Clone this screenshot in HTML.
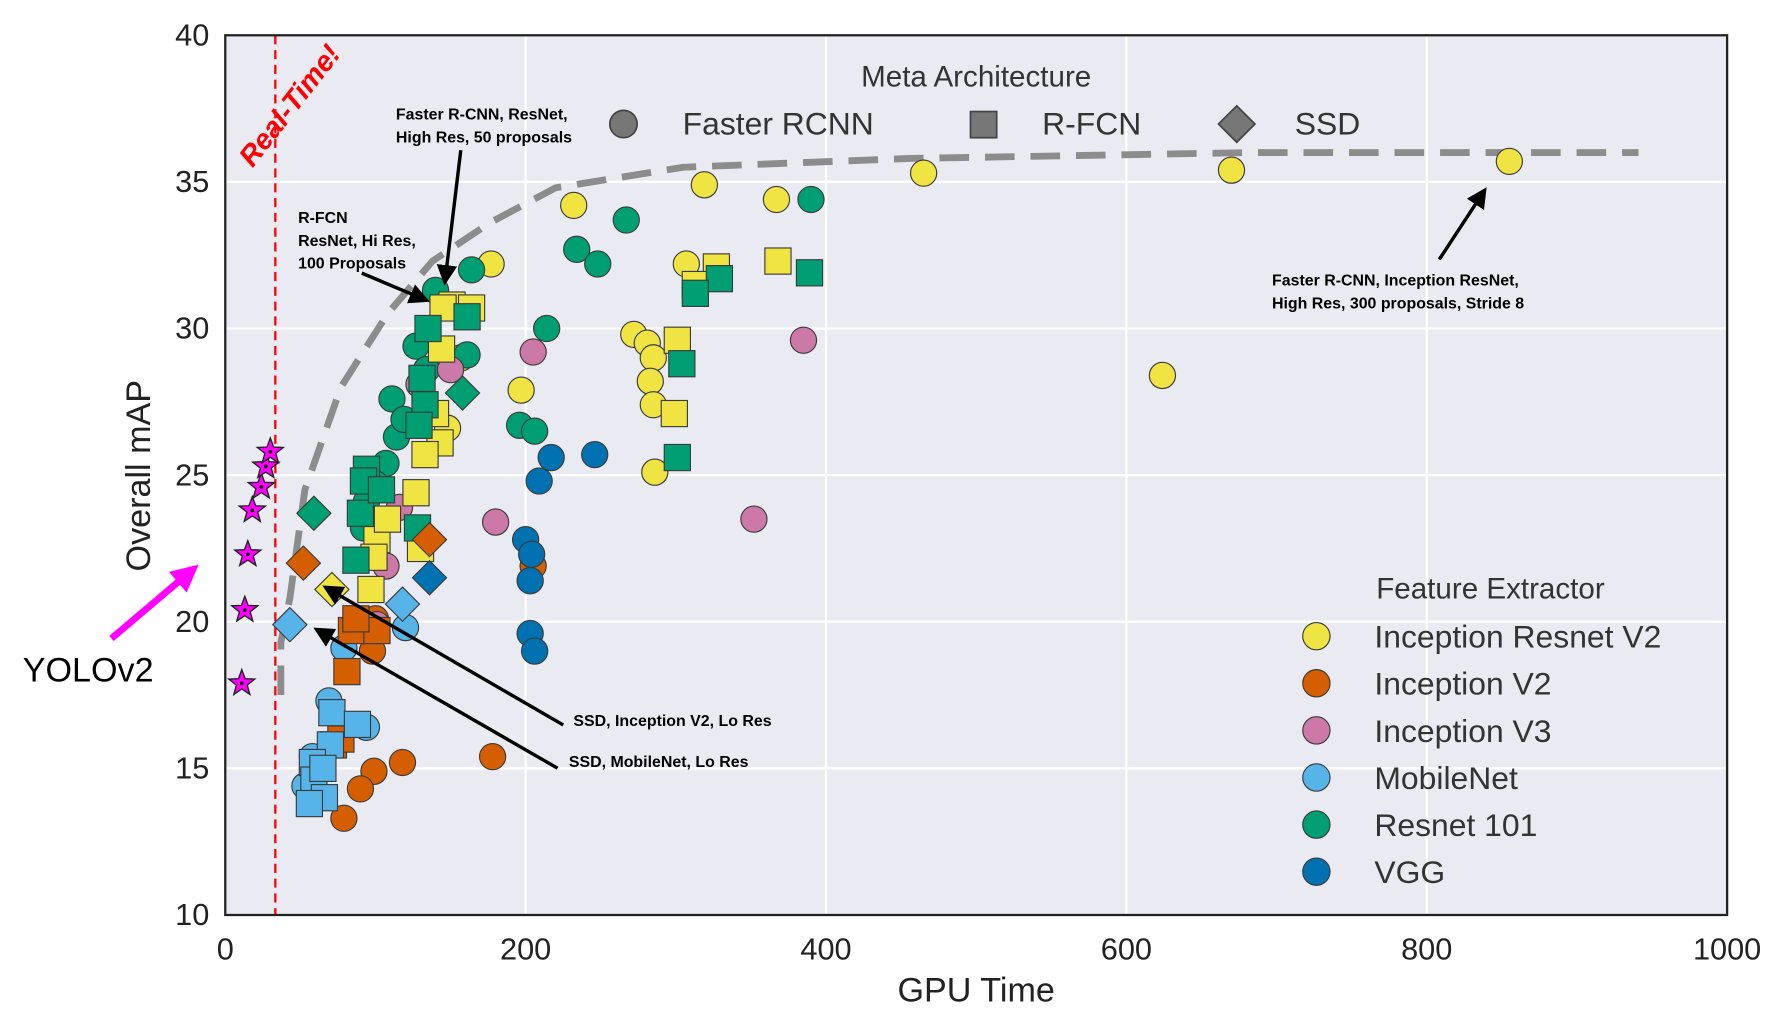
<!DOCTYPE html>
<html><head><meta charset="utf-8"><style>
html,body{margin:0;padding:0;background:#fff;}
svg{display:block;font-family:"Liberation Sans",sans-serif;}
</style></head><body>
<svg id="chart" width="1784" height="1014" viewBox="0 0 1568 891" preserveAspectRatio="none" xmlns="http://www.w3.org/2000/svg">
<defs>
<marker id="ah" markerWidth="6" markerHeight="6" refX="5" refY="3" orient="auto"><path d="M0,0 L6,3 L0,6 z" fill="#000"/></marker>
<marker id="ahm" markerWidth="4" markerHeight="4" refX="3" refY="2" orient="auto"><path d="M0,0 L4,2 L0,4 z" fill="#f0f"/></marker>
</defs>
<rect x="198" y="31" width="1320" height="773" fill="#eaeaf2"/>
<g id="grid"></g>
<g id="ticks"></g>
<line x1="242" y1="31" x2="242" y2="804" stroke="#f00" stroke-width="2" stroke-dasharray="8,5"/>
<text transform="translate(222,148) rotate(-52)" font-size="25" font-weight="bold" font-style="italic" fill="#f00">Real-Time!</text>
<path id="frontier" fill="none" stroke="#8c8c8c" stroke-width="6" stroke-dasharray="26,14"/>
<g id="marks"></g>
<rect x="198" y="31" width="1320" height="773" fill="none" stroke="#222" stroke-width="2"/>
<text transform="translate(132,418) rotate(-90)" text-anchor="middle" font-size="30" fill="#222">Overall mAP</text>
<text x="858" y="880" text-anchor="middle" font-size="30" fill="#222">GPU Time</text>
<g font-size="28" fill="#333">
<text x="858" y="76" text-anchor="middle" font-size="26">Meta Architecture</text>
<circle cx="548" cy="109" r="12" fill="#777" stroke="#444" stroke-width="1.5"/>
<text x="600" y="118">Faster RCNN</text>
<rect x="853" y="98" width="23" height="23" fill="#777" stroke="#444" stroke-width="1.5"/>
<text x="916" y="118">R-FCN</text>
<path d="M1087,93 L1103,109 L1087,125 L1071,109 z" fill="#777" stroke="#444" stroke-width="1.5"/>
<text x="1138" y="118">SSD</text>
</g>
<g id="fe-legend" font-size="28" fill="#333">
<text x="1310" y="526" text-anchor="middle" font-size="26">Feature Extractor</text>
</g>
<g font-size="14" font-weight="bold" fill="#000">
<text x="348" y="105">Faster R-CNN, ResNet,</text>
<text x="348" y="125">High Res, 50 proposals</text>
<line x1="405" y1="132" x2="391" y2="248" stroke="#000" stroke-width="3" marker-end="url(#ah)"/>
<text x="262" y="196">R-FCN</text>
<text x="262" y="216">ResNet, Hi Res,</text>
<text x="262" y="236">100 Proposals</text>
<line x1="318" y1="240" x2="375" y2="264" stroke="#000" stroke-width="3" marker-end="url(#ah)"/>
<text x="1118" y="251">Faster R-CNN, Inception ResNet,</text>
<text x="1118" y="271">High Res, 300 proposals, Stride 8</text>
<line x1="1265" y1="228" x2="1305" y2="167" stroke="#000" stroke-width="3" marker-end="url(#ah)"/>
<text x="504" y="638">SSD, Inception V2, Lo Res</text>
<line x1="495" y1="637" x2="286" y2="516" stroke="#000" stroke-width="3" marker-end="url(#ah)"/>
<text x="500" y="674">SSD, MobileNet, Lo Res</text>
<line x1="490" y1="675" x2="278" y2="553" stroke="#000" stroke-width="3" marker-end="url(#ah)"/>
</g>
<text x="20" y="599" font-size="30" fill="#000">YOLOv2</text>
<line x1="98" y1="561" x2="170" y2="500" stroke="#f0f" stroke-width="6" marker-end="url(#ahm)"/>
</svg>
<script>
// ---- data ----
const xTicks = [0, 200, 400, 600, 800, 1000];
const yTicks = [10, 15, 20, 25, 30, 35, 40];
const extractors = ["Inception Resnet V2", "Inception V2", "Inception V3", "MobileNet", "Resnet 101", "VGG"];
const colors = ["#f0e442", "#d55e00", "#cc79a7", "#56b4e9", "#009e73", "#0072b2"];
// each point: [gpuTime, mAP, extractorIndex]
const fasterRcnn = [
[855,35.7,0],[670,35.4,0],[465,35.3,0],[319,34.9,0],[367,34.4,0],[232,34.2,0],[177,32.2,0],[307,32.2,0],[272,29.8,0],[281,29.5,0],[285,29.0,0],[283,28.2,0],[285,27.4,0],[286,25.1,0],[197,27.9,0],[624,28.4,0],[157,29.0,0],[148,26.6,0],
[390,34.4,4],[267,33.7,4],[234,32.7,4],[248,32.2,4],[164,32.0,4],[140,31.3,4],[214,30.0,4],[161,29.1,4],[127,29.4,4],[196,26.7,4],[206,26.5,4],[111,27.6,4],[114,26.3,4],[107,25.4,4],[100,24.7,4],[94,24.1,4],[92,23.2,4],[134,28.6,4],[119,26.9,4],
[178,15.4,1],[118,15.2,1],[99,14.9,1],[90,14.3,1],[79,13.3,1],[205,21.9,1],[98,19.0,1],[100,20.1,1],
[385,29.6,2],[352,23.5,2],[205,29.2,2],[180,23.4,2],[116,23.9,2],[107,21.9,2],[101,19.9,2],[150,28.6,2],[129,28.1,2],
[69,17.3,3],[94,16.4,3],[120,19.8,3],[79,19.1,3],[53,14.4,3],[58,15.4,3],
[246,25.7,5],[217,25.6,5],[209,24.8,5],[200,22.8,5],[204,22.3,5],[203,21.4,5],[203,19.6,5],[206,19.0,5]
];
const rfcn = [
[368,32.3,0],[327,32.1,0],[313,31.5,0],[301,29.6,0],[299,27.1,0],[151,30.8,0],[164,30.7,0],[145,30.7,0],[144,29.3,0],[140,27.1,0],[143,26.1,0],[133,25.7,0],[127,24.4,0],[130,22.5,0],[101,22.8,0],[108,23.5,0],[99,22.2,0],[97,21.1,0],
[389,31.9,4],[329,31.7,4],[313,31.2,4],[304,28.8,4],[301,25.6,4],[161,30.4,4],[135,30.0,4],[131,28.3,4],[133,27.4,4],[129,26.7,4],[94,25.2,4],[92,24.8,4],[90,23.7,4],[87,22.1,4],[128,23.2,4],[104,24.5,4],
[81,18.3,1],[84,19.7,1],[101,19.7,1],[87,20.1,1],[72,15.8,1],[77,16.0,1],
[71,16.9,3],[88,16.5,3],[70,15.8,3],[58,15.2,3],[59,14.6,3],[66,14.0,3],[56,13.8,3],[65,15.0,3]
];
const ssd = [
[158,27.8,4],[59,23.7,4],[52,22.0,1],[136,22.8,1],[118,20.6,3],[43,19.9,3],[136,21.5,5],[71,21.1,0]
];
const yoloTime = [11, 13, 15, 18, 24, 27, 30];
const yoloMap = [17.9, 20.4, 22.3, 23.8, 24.6, 25.3, 25.8];
const frontierTime = [37, 37, 43, 53, 77, 108, 138, 176, 220, 305, 456, 683, 941];
const frontierMap = [17.5, 19.3, 20.8, 24.5, 28.0, 30.5, 32.3, 33.6, 34.8, 35.5, 35.8, 36.0, 36.0];

// ---- axes ----
const X0 = 198, X1 = 1518, Y0 = 804, Y1 = 31;
function xs(v){ return X0 + (v - 0) / 1000 * (X1 - X0); }
function ys(v){ return Y0 - (v - 10) / 30 * (Y0 - Y1); }
const NS = "http://www.w3.org/2000/svg";
function mk(tag, attrs, parent){ const e = document.createElementNS(NS, tag); for (const k in attrs) e.setAttribute(k, attrs[k]); parent.appendChild(e); return e; }

const grid = document.getElementById("grid"), ticks = document.getElementById("ticks");
xTicks.forEach(t => {
  const l = mk("line", {x1: xs(t), x2: xs(t), y1: Y1, y2: Y0, stroke: "#fff", "stroke-width": 2}, grid);
  
  
  const tx = mk("text", {x: xs(t), y: Y0 + 39, "text-anchor": "middle", "font-size": 27, fill: "#222"}, ticks);
  tx.textContent = t;
  
  
});
yTicks.forEach(t => {
  const l = mk("line", {x1: X0, x2: X1, y1: ys(t), y2: ys(t), stroke: "#fff", "stroke-width": 2}, grid);
  
  
  const tx = mk("text", {x: X0 - 14, y: ys(t) + 9, "text-anchor": "end", "font-size": 27, fill: "#222"}, ticks);
  tx.textContent = t;
  
  
});

// frontier
document.getElementById("frontier").setAttribute("d", frontierTime.map((t, i) => (i ? "L" : "M") + xs(t) + "," + ys(frontierMap[i])).join(" "));

const marks = document.getElementById("marks");
const stroke = "#3a3a3a";
fasterRcnn.forEach(p => {
  const c = mk("circle", {cx: xs(p[0]), cy: ys(p[1]), r: 11.5, fill: colors[p[2]], stroke: stroke, "stroke-width": 1}, marks);
  
  
});
rfcn.forEach(p => {
  const r = mk("rect", {x: xs(p[0]) - 11.5, y: ys(p[1]) - 11.5, width: 23, height: 23, fill: colors[p[2]], stroke: stroke, "stroke-width": 1}, marks);
  
  
});
ssd.forEach(p => {
  const x = xs(p[0]), y = ys(p[1]);
  const d = mk("path", {d: `M${x},${y-15} L${x+15},${y} L${x},${y+15} L${x-15},${y} z`, fill: colors[p[2]], stroke: stroke, "stroke-width": 1}, marks);
  
  
});
yoloTime.forEach((t, i) => {
  const cx = xs(t), cy = ys(yoloMap[i]);
  let pts = [];
  for (let k = 0; k < 10; k++) { const a = -Math.PI/2 + k*Math.PI/5, r = k%2 ? 5 : 12; pts.push((cx + r*Math.cos(a)).toFixed(1) + "," + (cy + r*Math.sin(a)).toFixed(1)); }
  const s = mk("polygon", {points: pts.join(" "), fill: "#f0f", stroke: "#222", "stroke-width": 1.2}, marks);
  
  
  const dot = mk("circle", {cx: cx, cy: cy, r: 1.6, fill: "#000"}, marks);
  
  
});

// feature extractor legend
const fe = document.getElementById("fe-legend");
extractors.forEach((n, i) => {
  const y = 559 + i * 41.4;
  const c = mk("circle", {cx: 1157, cy: y, r: 12, fill: colors[i], stroke: stroke, "stroke-width": 1}, fe);
  
  
  const t = mk("text", {x: 1208, y: y + 10}, fe);
  t.textContent = n;
  
  
});
</script>
</body></html>
